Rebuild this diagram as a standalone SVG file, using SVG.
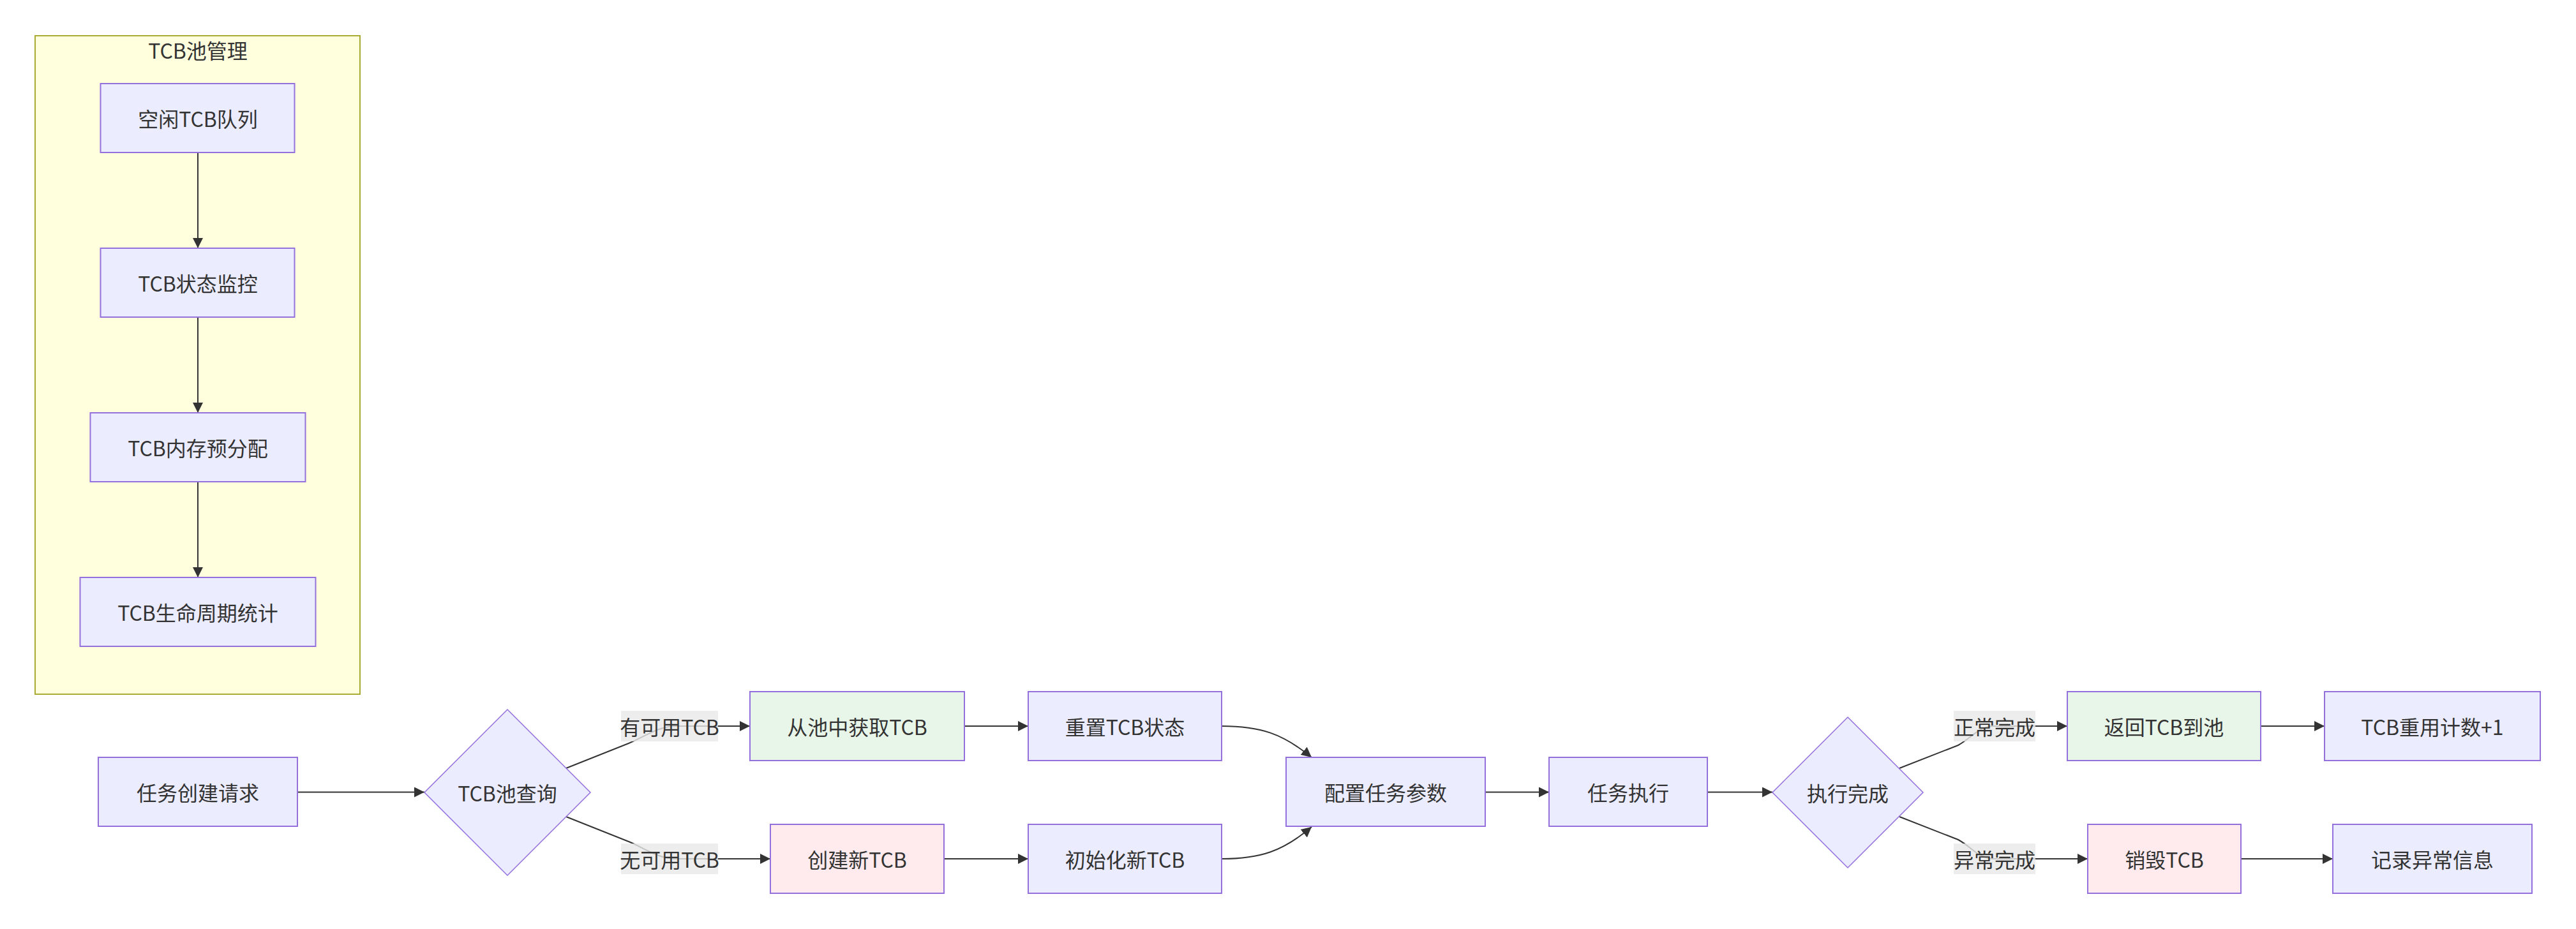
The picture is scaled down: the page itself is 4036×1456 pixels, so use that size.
<svg xmlns="http://www.w3.org/2000/svg" width="4036" height="1456" viewBox="0 0 4036 1456">
<style>
text{font-family:"Noto Sans CJK SC","Noto Sans",sans-serif;font-size:32px;fill:#333333;text-anchor:middle;dominant-baseline:central}
.n{fill:#ECECFF;stroke:#9370DB;stroke-width:2}
.g{fill:#E8F5E9;stroke:#9370DB;stroke-width:2}
.p{fill:#FFEBEE;stroke:#9370DB;stroke-width:2}
.d{fill:#ECECFF;stroke:#9370DB;stroke-width:1.5}
.e{fill:none;stroke:#333333;stroke-width:2;marker-end:url(#ah)}
.lb{fill:#e8e8e8;fill-opacity:0.8}
</style>
<defs>
<marker id="ah" viewBox="0 0 10 10" refX="10" refY="5" markerUnits="userSpaceOnUse" markerWidth="16" markerHeight="16" orient="auto">
<path d="M0,0 L10,5 L0,10 z" fill="#333333"/>
</marker>
</defs>
<g id="cluster-pool">
<rect x="55" y="56" width="509" height="1032" fill="#ffffde" stroke="#aaaa33" stroke-width="2"/>
<text x="310" y="78">TCB池管理</text>
</g>
<g id="connectors">
<path class="e" d="M310,239 L310,389"/>
<path class="e" d="M310,497 L310,647"/>
<path class="e" d="M310,755 L310,905"/>
<path class="e" d="M466,1241.5 L665,1241.5"/>
<path class="e" d="M887,1204 L985,1165 C1010,1155 1030,1138 1060,1138 L1175,1138"/>
<path class="e" d="M887,1280 L985,1319 C1010,1329 1030,1346 1060,1346 L1207,1346"/>
<path class="e" d="M1511,1138 L1611,1138"/>
<path class="e" d="M1479,1346 L1611,1346"/>
<path class="e" d="M1914,1138 C1975,1138 2010,1150 2055,1187"/>
<path class="e" d="M1914,1346 C1975,1346 2010,1334 2055,1296"/>
<path class="e" d="M2327,1241.5 L2427,1241.5"/>
<path class="e" d="M2675,1241.5 L2777,1241.5"/>
<path class="e" d="M2976,1204 L3068,1168 C3090,1156 3100,1138 3125,1138 L3239,1138"/>
<path class="e" d="M2976,1280 L3068,1316 C3090,1328 3100,1346 3125,1346 L3271,1346"/>
<path class="e" d="M3542,1138 L3642,1138"/>
<path class="e" d="M3511,1346 L3655,1346"/>
</g>
<g id="edge-labels">
<g id="label-yes"><rect class="lb" x="973" y="1114" width="152" height="48"/><text x="1049" y="1138">有可用TCB</text></g>
<g id="label-no"><rect class="lb" x="973" y="1322" width="152" height="48"/><text x="1049" y="1346">无可用TCB</text></g>
<g id="label-ok"><rect class="lb" x="3061" y="1114" width="128" height="48"/><text x="3125" y="1138">正常完成</text></g>
<g id="label-err"><rect class="lb" x="3061" y="1322" width="128" height="48"/><text x="3125" y="1346">异常完成</text></g>
</g>
<g id="node-free-queue"><rect class="n" x="157.5" y="131" width="304" height="108"/><text x="310" y="185">空闲TCB队列</text></g>
<g id="node-monitor"><rect class="n" x="157.5" y="389" width="304" height="108"/><text x="310" y="443">TCB状态监控</text></g>
<g id="node-prealloc"><rect class="n" x="141.5" y="647" width="337" height="108"/><text x="310" y="701">TCB内存预分配</text></g>
<g id="node-lifecycle"><rect class="n" x="125.5" y="905" width="369" height="108"/><text x="310" y="959">TCB生命周期统计</text></g>
<g id="node-request"><rect class="n" x="154" y="1187" width="312" height="108"/><text x="310" y="1241">任务创建请求</text></g>
<g id="node-query"><polygon class="d" points="795,1112 925,1242 795,1372 665,1242"/><text x="795" y="1242">TCB池查询</text></g>
<g id="node-get"><rect class="g" x="1175" y="1084" width="336" height="108"/><text x="1343" y="1138">从池中获取TCB</text></g>
<g id="node-create"><rect class="p" x="1207" y="1292" width="272" height="108"/><text x="1343" y="1346">创建新TCB</text></g>
<g id="node-reset"><rect class="n" x="1611" y="1084" width="303" height="108"/><text x="1762.5" y="1138">重置TCB状态</text></g>
<g id="node-init"><rect class="n" x="1611" y="1292" width="303" height="108"/><text x="1762.5" y="1346">初始化新TCB</text></g>
<g id="node-config"><rect class="n" x="2015" y="1187" width="312" height="108"/><text x="2171" y="1241">配置任务参数</text></g>
<g id="node-exec"><rect class="n" x="2427" y="1187" width="248" height="108"/><text x="2551" y="1241">任务执行</text></g>
<g id="node-done"><polygon class="d" points="2895,1124 3013,1242 2895,1360 2777,1242"/><text x="2895" y="1242">执行完成</text></g>
<g id="node-return"><rect class="g" x="3239" y="1084" width="303" height="108"/><text x="3390.5" y="1138">返回TCB到池</text></g>
<g id="node-reuse"><rect class="n" x="3642" y="1084" width="338" height="108"/><text x="3811" y="1138">TCB重用计数+1</text></g>
<g id="node-destroy"><rect class="p" x="3271" y="1292" width="240" height="108"/><text x="3391" y="1346">销毁TCB</text></g>
<g id="node-log"><rect class="n" x="3655" y="1292" width="312" height="108"/><text x="3811" y="1346">记录异常信息</text></g>
</svg>
